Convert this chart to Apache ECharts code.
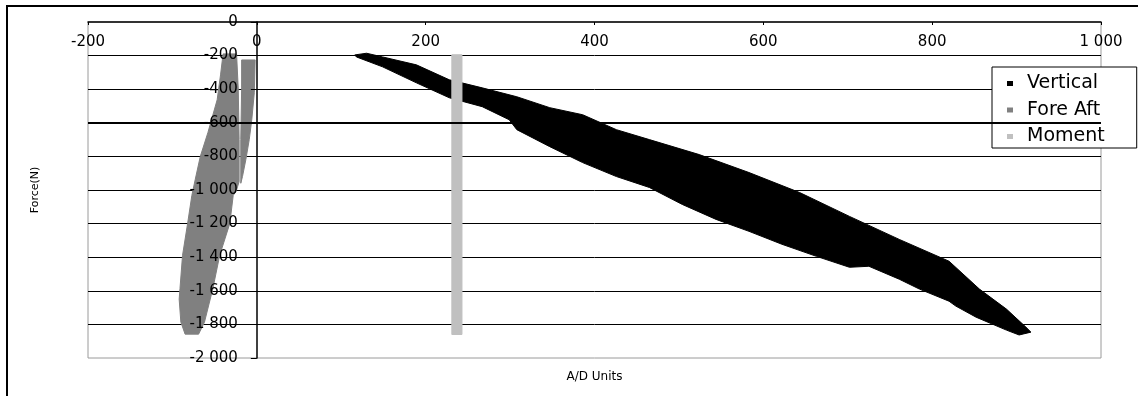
<!DOCTYPE html>
<html><head><meta charset="utf-8">
<script src="https://cdn.jsdelivr.net/npm/echarts@6/dist/echarts.min.js"></script>
<style>html,body{margin:0;padding:0;background:#fff}#c{width:1138px;height:396px}</style>
</head><body><div id="c"></div>
<script>
// ---- data ----
const seriesNames = ['Vertical', 'Fore Aft', 'Moment'];
const seriesColors = ['#000000', '#808080', '#c0c0c0'];

const xTickValues = [-200, 0, 200, 400, 600, 800, 1000];
const xTickLabels = ['-200', '0', '200', '400', '600', '800', '1 000'];
const yTickValues = [0, -200, -400, -600, -800, -1000, -1200, -1400, -1600, -1800, -2000];
const yTickLabels = ['0', '-200', '-400', '-600', '-800', '-1 000', '-1 200', '-1 400', '-1 600', '-1 800', '-2 000'];

// outline of the dense "Vertical" point cloud: [A/D units, force N]
const verticalOutline = [
  [116,-196],[130,-186],[149,-208],[189,-255],[228,-344],[267,-392],[308,-445],[347,-510],
  [386,-552],[426,-641],[465,-700],[524,-789],[583,-896],[643,-1015],[702,-1157],[761,-1294],
  [820,-1424],[856,-1590],[888,-1709],[911,-1816],[917,-1846],
  [903,-1863],[888,-1834],[852,-1757],[828,-1691],[820,-1662],[785,-1590],[761,-1531],
  [725,-1454],[702,-1460],[663,-1395],[622,-1323],[583,-1246],[544,-1175],[504,-1086],
  [465,-985],[426,-920],[386,-837],[347,-742],[308,-641],[299,-582],[267,-504],[228,-451],
  [189,-362],[149,-267],[118,-208]
];
// outlines of the "Fore Aft" point cloud: main band and the thin strip next to x = 0
const foreAftMainOutline = [
  [-40,-190],[-24,-190],[-22,-400],[-21,-700],[-21,-950],[-24,-1000],[-28,-1033],[-32,-1199],
  [-44,-1389],[-52,-1585],[-62,-1786],[-69,-1858],[-85,-1858],[-90,-1786],[-92,-1650],
  [-91,-1585],[-88,-1389],[-82,-1199],[-77,-1033],[-73,-938],[-67,-801],[-58,-659],
  [-47,-463],[-43,-315],[-40,-190]
];
const foreAftStripOutline = [
  [-18,-226],[-2,-226],[-3,-421],[-6,-582],[-9,-700],[-13,-819],[-17,-920],[-19,-960],
  [-19,-700],[-18,-400]
];
// outline of the "Moment" point cloud
const momentOutline = [[231,-195],[243,-195],[243,-1860],[231,-1860]];

const thickGridValue = -600;

// ---- chart ----
const chart = echarts.init(document.getElementById('c'));
const tickFont = 'DejaVu Sans';

function band(name, outlines, color) {
  return {
    name: name,
    type: 'custom',
    coordinateSystem: 'cartesian2d',
    xAxisIndex: 0, yAxisIndex: 0,
    clip: true,
    itemStyle: { color: color },
    encode: { x: 0, y: 1 },
    data: [].concat.apply([], outlines),
    renderItem: function (params, api) {
      if (params.dataIndex !== 0) return null;
      return {
        type: 'group',
        children: outlines.map(function (outline) {
          return { type: 'polygon',
                   shape: { points: outline.map(function (p) { return api.coord(p); }) },
                   style: { fill: color, stroke: color, lineWidth: 1 } };
        })
      };
    }
  };
}

const foreAft = band(seriesNames[1], [foreAftMainOutline, foreAftStripOutline], seriesColors[1]);
foreAft.markLine = {
  silent: true, symbol: 'none', label: { show: false },
  lineStyle: { color: '#000', width: 2, type: 'solid' },
  emphasis: { disabled: true },
  data: [{ yAxis: thickGridValue }]
};

// y axis sits on x = 0: shift it right from the grid's left edge by the pixel width of (0 - xMin)
const gridLeft = 88, gridRight = 37, chartWidth = 1138, xMin = -200, xMax = 1000;
const zeroShift = (0 - xMin) / (xMax - xMin) * (chartWidth - gridLeft - gridRight);

chart.setOption({
  animation: false,
  backgroundColor: '#fff',
  grid: { left: gridLeft, top: 22, right: gridRight, bottom: 38, show: true, containLabel: false,
          outerBoundsMode: 'none',
          borderColor: '#9a9a9a', borderWidth: 1, backgroundColor: 'transparent' },
  graphic: [{
    type: 'polyline', silent: true,
    shape: { points: [[7, 396], [7, 6], [1138, 6]] },
    style: { stroke: '#000', lineWidth: 2, fill: null }
  }],
  legend: {
    orient: 'vertical', left: 992, top: 67,
    padding: [7, 32, 2, 15], itemGap: 7.5,
    itemWidth: 6, itemHeight: 5,
    backgroundColor: '#fff', borderColor: '#000', borderWidth: 1,
    textStyle: { fontFamily: 'DejaVu Sans', fontSize: 19, lineHeight: 18, color: '#000', padding: [0, 0, 0, 9] },
    data: [
      { name: seriesNames[0], icon: 'rect', itemStyle: { color: seriesColors[0] } },
      { name: seriesNames[1], icon: 'rect', itemStyle: { color: seriesColors[1] } },
      { name: seriesNames[2], icon: 'rect', itemStyle: { color: seriesColors[2] } }
    ]
  },
  xAxis: {
    type: 'value', position: 'top', min: xMin, max: xMax, interval: 200,
    name: 'A/D Units', nameLocation: 'middle', nameGap: -355,
    nameTextStyle: { fontFamily: 'DejaVu Sans', fontSize: 12, color: '#000', verticalAlign: 'middle' },
    axisLine: { show: true, onZero: false, lineStyle: { color: '#000', width: 1.5 } },
    axisTick: { show: true, inside: true, length: 3, lineStyle: { color: '#000' } },
    axisLabel: {
      inside: true, margin: 13, color: '#000', fontFamily: tickFont, fontSize: 15,
      formatter: function (v) { const i = xTickValues.indexOf(v); return i >= 0 ? xTickLabels[i] : ''; }
    },
    splitLine: { show: false }
  },
  yAxis: [{
    type: 'value', min: -2000, max: 0, interval: 200,
    axisLine: { show: false }, axisTick: { show: false }, axisLabel: { show: false },
    splitLine: { show: true, showMinLine: false, showMaxLine: false, lineStyle: { color: '#000', width: 1 } }
  }, {
    type: 'value', min: -2000, max: 0, interval: 200, position: 'left', z: 5,
    offset: -zeroShift,
    name: 'Force(N)', nameLocation: 'middle', nameGap: 216,
    nameTextStyle: { fontFamily: 'DejaVu Sans', fontSize: 11, color: '#000' },
    axisLine: { show: true, onZero: false, lineStyle: { color: '#000', width: 1.5 } },
    axisTick: { show: true, length: 6, lineStyle: { color: '#000' } },
    axisLabel: {
      margin: 19, color: '#000', fontFamily: tickFont, fontSize: 15,
      formatter: function (v) { const i = yTickValues.indexOf(v); return i >= 0 ? yTickLabels[i] : ''; }
    },
    splitLine: { show: false }
  }],
  series: [
    foreAft,
    band(seriesNames[0], [verticalOutline], seriesColors[0]),
    band(seriesNames[2], [momentOutline], seriesColors[2])
  ]
});
</script>
</body></html>
